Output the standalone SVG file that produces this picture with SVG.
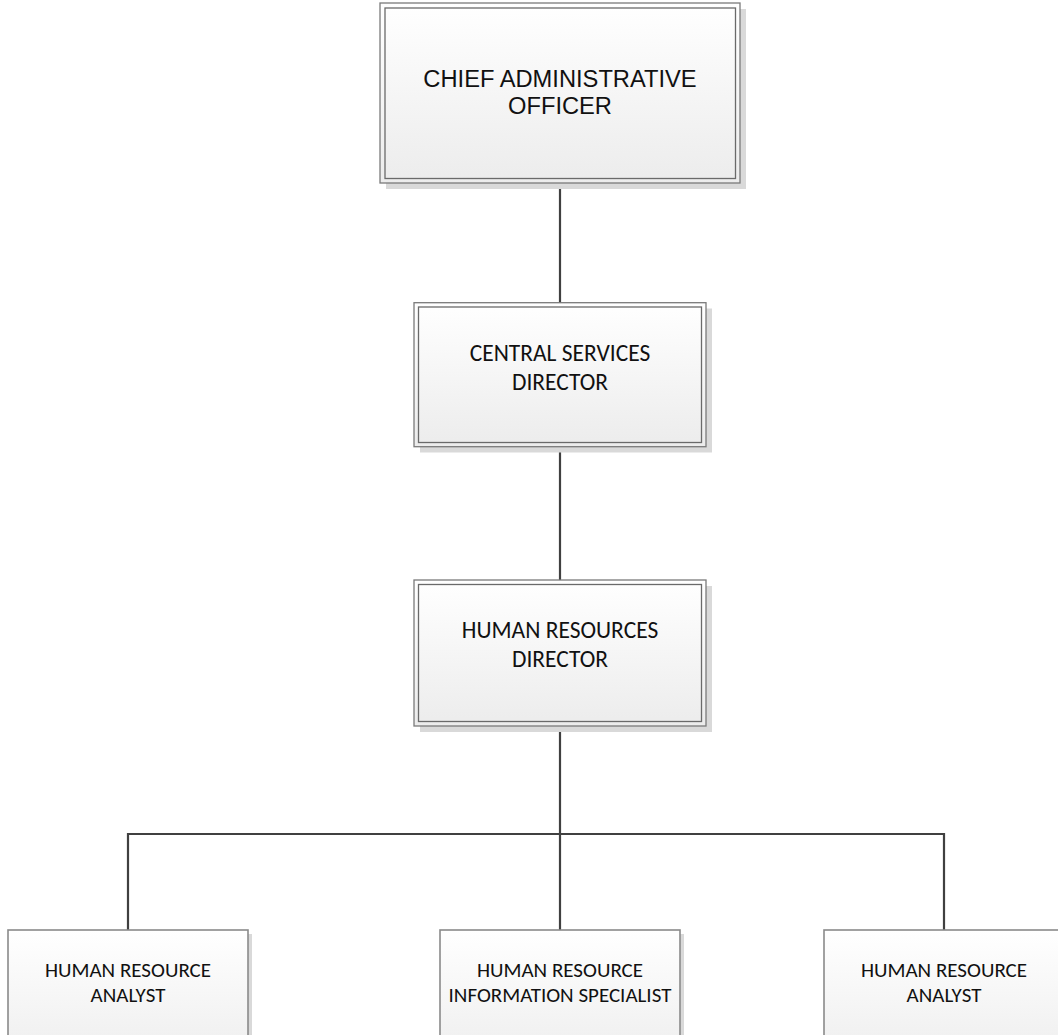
<svg xmlns="http://www.w3.org/2000/svg" width="1058" height="1035" viewBox="0 0 1058 1035">
<defs>
<linearGradient id="fill" x1="0" y1="0" x2="0" y2="1">
<stop offset="0" stop-color="#ffffff"/>
<stop offset="1" stop-color="#ececec"/>
</linearGradient>
</defs>
<style>
.shadow{fill:#d9d9d9}
.outer{fill:url(#fill);stroke:#7a7a7a;stroke-width:1.3}
.inner{fill:none;stroke:#6a6a6a;stroke-width:1.3}
.single{fill:url(#fill);stroke:#8a8a8a;stroke-width:1.6}
.conn{fill:none;stroke:#404040;stroke-width:2.2}
.arial{font-family:"Liberation Sans",Arial,sans-serif;font-size:23.7px;fill:#111;text-anchor:middle}
.cal{font-family:Calibri,Carlito,Lato,sans-serif;font-size:23.5px;fill:#111;text-anchor:middle}
.cal2{font-family:Calibri,Carlito,Lato,sans-serif;font-size:21px;fill:#111;text-anchor:middle}
</style>
<rect width="1058" height="1035" fill="#ffffff"/>
<g id="connectors">
<line class="conn" x1="560" y1="183" x2="560" y2="303"/>
<line class="conn" x1="560" y1="447" x2="560" y2="580"/>
<line class="conn" x1="560" y1="726" x2="560" y2="930"/>
<polyline class="conn" points="128,930 128,834 944,834 944,930"/>
</g>
<g id="chief-administrative-officer">
<rect class="shadow" x="386" y="9" width="360" height="180"/>
<rect class="outer" x="380" y="3" width="360" height="180"/>
<rect class="inner" x="385" y="8" width="350.5" height="170.5"/>
<text class="arial" x="560" y="86.7">CHIEF ADMINISTRATIVE</text>
<text class="arial" x="560" y="114.3">OFFICER</text>
</g>
<g id="central-services-director">
<rect class="shadow" x="420" y="308.5" width="292" height="144"/>
<rect class="outer" x="414" y="302.7" width="292" height="144"/>
<rect class="inner" x="418.5" y="307" width="283" height="135.5"/>
<text class="cal" x="560" y="360.7">CENTRAL SERVICES</text>
<text class="cal" x="560" y="390">DIRECTOR</text>
</g>
<g id="human-resources-director">
<rect class="shadow" x="420" y="586" width="292" height="146"/>
<rect class="outer" x="414" y="580" width="292" height="146"/>
<rect class="inner" x="418.5" y="584.5" width="283" height="137"/>
<text class="cal" x="560" y="638.3">HUMAN RESOURCES</text>
<text class="cal" x="560" y="666.7">DIRECTOR</text>
</g>
<g id="human-resource-analyst-1">
<rect class="shadow" x="12" y="934" width="240" height="145"/>
<rect class="single" x="8" y="930" width="240" height="145"/>
<text class="cal2" x="128" y="976.7">HUMAN RESOURCE</text>
<text class="cal2" x="128" y="1001.7">ANALYST</text>
</g>
<g id="human-resource-information-specialist">
<rect class="shadow" x="444" y="934" width="240" height="145"/>
<rect class="single" x="440" y="930" width="240" height="145"/>
<text class="cal2" x="560" y="976.7">HUMAN RESOURCE</text>
<text class="cal2" x="560" y="1001.7">INFORMATION SPECIALIST</text>
</g>
<g id="human-resource-analyst-2">
<rect class="shadow" x="828" y="934" width="240" height="145"/>
<rect class="single" x="824" y="930" width="240" height="145"/>
<text class="cal2" x="944" y="976.7">HUMAN RESOURCE</text>
<text class="cal2" x="944" y="1001.7">ANALYST</text>
</g>
</svg>
